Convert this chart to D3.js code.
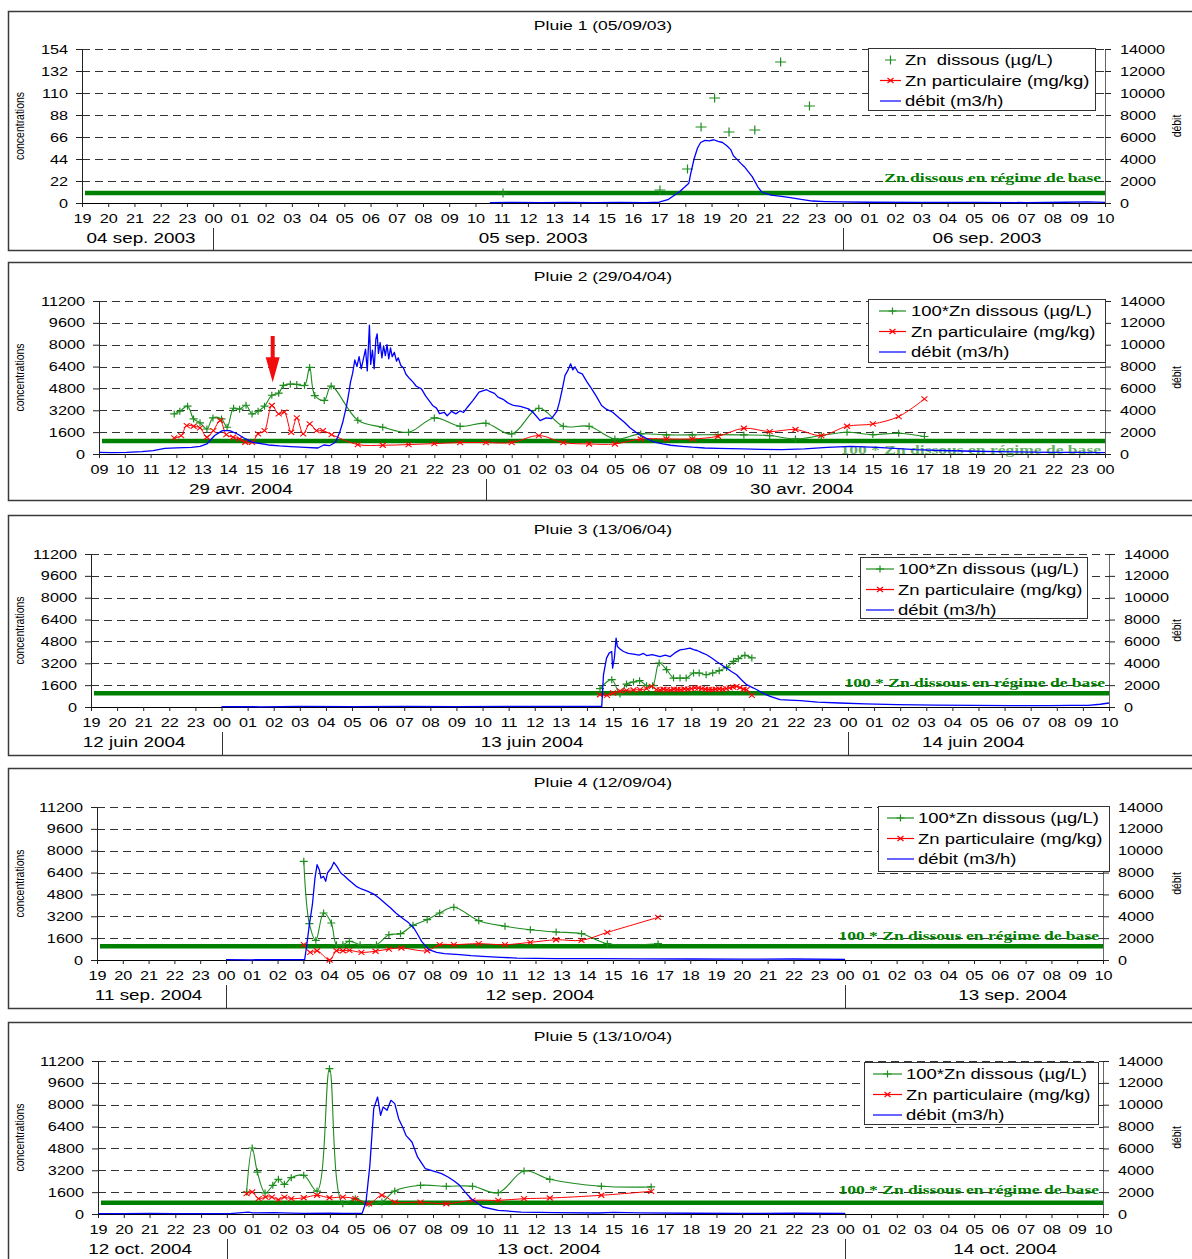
<!DOCTYPE html>
<html><head><meta charset="utf-8">
<script src="https://cdn.jsdelivr.net/npm/d3@7"></script>
<style>
html,body{margin:0;padding:0;background:#fff;}
svg{display:block;background:#fff;}
</style></head><body>
<svg id="chart" width="1192" height="1259"></svg>
<script>
// ---------- Pluie 1 (05/09/03) ----------
const pluie1Dissous = [["2003-09-05 11:03",10],["2003-09-05 17:02",13],["2003-09-05 18:05",34],["2003-09-05 18:36",76],["2003-09-05 19:07",105],["2003-09-05 19:40",71],["2003-09-05 20:39",73],["2003-09-05 21:38",141],["2003-09-05 22:44",97]];
const pluie1Particulaire = [];
const pluie1Debit = [["2003-09-05 10:33",40],["2003-09-05 11:30",60],["2003-09-05 12:30",30],["2003-09-05 13:30",50],["2003-09-05 14:30",40],["2003-09-05 15:30",60],["2003-09-05 16:30",40],["2003-09-05 17:00",70],["2003-09-05 17:20",300],["2003-09-05 17:46",1000],["2003-09-05 18:00",1500],["2003-09-05 18:08",1800],["2003-09-05 18:12",2600],["2003-09-05 18:20",4000],["2003-09-05 18:28",5000],["2003-09-05 18:35",5500],["2003-09-05 18:45",5700],["2003-09-05 18:55",5650],["2003-09-05 19:05",5750],["2003-09-05 19:15",5600],["2003-09-05 19:25",5500],["2003-09-05 19:35",5200],["2003-09-05 19:44",4850],["2003-09-05 19:50",4300],["2003-09-05 20:00",3900],["2003-09-05 20:07",3600],["2003-09-05 20:15",3300],["2003-09-05 20:24",2850],["2003-09-05 20:33",2400],["2003-09-05 20:40",1900],["2003-09-05 20:46",1450],["2003-09-05 20:55",1000],["2003-09-05 21:16",720],["2003-09-05 21:40",600],["2003-09-05 22:00",480],["2003-09-05 22:25",320],["2003-09-05 22:51",180],["2003-09-05 23:20",130],["2003-09-05 23:52",100],["2003-09-06 01:00",70],["2003-09-06 03:00",50],["2003-09-06 05:00",60],["2003-09-06 07:00",40],["2003-09-06 08:30",70],["2003-09-06 09:20",110],["2003-09-06 10:00",60]];
const pluie1Base = 10;
const pluie1Jours = [["04 sep. 2003","2003-09-04 21:15"],["05 sep. 2003","2003-09-05 12:12"],["06 sep. 2003","2003-09-06 05:30"]];

// ---------- Pluie 2 (29/04/04) ----------
const pluie2Dissous = [["2004-04-29 11:55",2930],["2004-04-29 12:08",3130],["2004-04-29 12:26",3500],["2004-04-29 12:40",2570],["2004-04-29 12:55",2280],["2004-04-29 13:11",1830],["2004-04-29 13:25",2640],["2004-04-29 13:45",2570],["2004-04-29 13:58",1960],["2004-04-29 14:13",3350],["2004-04-29 14:27",3280],["2004-04-29 14:42",3570],["2004-04-29 14:56",2930],["2004-04-29 15:10",3130],["2004-04-29 15:25",3500],["2004-04-29 15:42",4300],["2004-04-29 15:58",4450],["2004-04-29 16:09",5020],["2004-04-29 16:25",5110],["2004-04-29 16:40",5090],["2004-04-29 16:58",5020],["2004-04-29 17:10",6340],["2004-04-29 17:22",4280],["2004-04-29 17:44",3920],["2004-04-29 18:00",4970],["2004-04-29 19:02",2470],["2004-04-29 20:00",1960],["2004-04-29 21:00",1590],["2004-04-29 22:00",2640],["2004-04-29 23:00",2030],["2004-04-30 00:00",2250],["2004-04-30 01:00",1470],["2004-04-30 02:03",3350],["2004-04-30 03:00",2030],["2004-04-30 04:00",2030],["2004-04-30 05:00",1100],["2004-04-30 06:00",1470],["2004-04-30 07:00",1400],["2004-04-30 08:00",1400],["2004-04-30 09:00",1420],["2004-04-30 10:00",1400],["2004-04-30 11:00",1350],["2004-04-30 12:00",1100],["2004-04-30 13:00",1350],["2004-04-30 14:00",1590],["2004-04-30 15:00",1420],["2004-04-30 16:00",1520],["2004-04-30 17:00",1280]];
const pluie2Particulaire = [["2004-04-29 11:55",1175],["2004-04-29 12:11",1350],["2004-04-29 12:24",2080],["2004-04-29 12:40",2030],["2004-04-29 12:55",1910],["2004-04-29 13:11",1225],["2004-04-29 13:26",1715],["2004-04-29 13:42",2450],["2004-04-29 13:56",1420],["2004-04-29 14:12",1225],["2004-04-29 14:27",1100],["2004-04-29 14:40",860],["2004-04-29 14:56",860],["2004-04-29 15:10",1470],["2004-04-29 15:25",1715],["2004-04-29 15:42",3550],["2004-04-29 15:58",2935],["2004-04-29 16:11",3060],["2004-04-29 16:27",1590],["2004-04-29 16:40",2640],["2004-04-29 16:55",1470],["2004-04-29 17:10",2200],["2004-04-29 17:26",1715],["2004-04-29 17:41",1715],["2004-04-29 18:01",1420],["2004-04-29 19:02",690],["2004-04-29 20:00",640],["2004-04-29 21:00",690],["2004-04-29 22:00",760],["2004-04-29 23:00",835],["2004-04-30 00:00",835],["2004-04-30 01:00",835],["2004-04-30 02:03",1350],["2004-04-30 03:00",835],["2004-04-30 04:00",735],["2004-04-30 05:00",735],["2004-04-30 06:00",1100],["2004-04-30 07:00",1100],["2004-04-30 08:00",1100],["2004-04-30 09:00",1300],["2004-04-30 10:00",1885],["2004-04-30 11:00",1640],["2004-04-30 12:00",1790],["2004-04-30 13:00",1350],["2004-04-30 14:00",2030],["2004-04-30 15:00",2200],["2004-04-30 16:00",2740],["2004-04-30 17:00",4030]];
const pluie2Debit = [["2004-04-29 09:00",150],["2004-04-29 09:30",120],["2004-04-29 10:04",150],["2004-04-29 10:40",220],["2004-04-29 11:06",310],["2004-04-29 11:33",520],["2004-04-29 12:00",560],["2004-04-29 12:35",610],["2004-04-29 12:55",700],["2004-04-29 13:11",920],["2004-04-29 13:20",1300],["2004-04-29 13:29",1690],["2004-04-29 13:47",2140],["2004-04-29 14:04",2140],["2004-04-29 14:22",1830],["2004-04-29 14:40",1400],["2004-04-29 14:58",1070],["2004-04-29 15:34",825],["2004-04-29 16:00",740],["2004-04-29 16:26",680],["2004-04-29 17:00",600],["2004-04-29 17:29",550],["2004-04-29 17:43",825],["2004-04-29 17:56",760],["2004-04-29 18:10",1070],["2004-04-29 18:20",2000],["2004-04-29 18:27",2900],["2004-04-29 18:36",4440],["2004-04-29 18:42",5800],["2004-04-29 18:45",6570],["2004-04-29 18:50",7400],["2004-04-29 18:55",8600],["2004-04-29 19:00",8000],["2004-04-29 19:05",8900],["2004-04-29 19:10",7800],["2004-04-29 19:15",8700],["2004-04-29 19:20",9600],["2004-04-29 19:24",7600],["2004-04-29 19:29",11800],["2004-04-29 19:32",8200],["2004-04-29 19:36",9500],["2004-04-29 19:40",7800],["2004-04-29 19:44",10500],["2004-04-29 19:47",11000],["2004-04-29 19:50",9200],["2004-04-29 19:54",10200],["2004-04-29 19:58",8800],["2004-04-29 20:02",9900],["2004-04-29 20:06",9000],["2004-04-29 20:10",10000],["2004-04-29 20:14",8700],["2004-04-29 20:18",9700],["2004-04-29 20:22",8900],["2004-04-29 20:27",9300],["2004-04-29 20:32",8500],["2004-04-29 20:36",8800],["2004-04-29 20:42",8100],["2004-04-29 20:48",7900],["2004-04-29 20:54",7300],["2004-04-29 21:03",6880],["2004-04-29 21:10",6600],["2004-04-29 21:18",6200],["2004-04-29 21:30",5960],["2004-04-29 21:40",5300],["2004-04-29 21:56",4440],["2004-04-29 22:05",4200],["2004-04-29 22:12",3700],["2004-04-29 22:23",3820],["2004-04-29 22:30",3500],["2004-04-29 22:40",3900],["2004-04-29 22:50",3670],["2004-04-29 23:00",3950],["2004-04-29 23:08",3800],["2004-04-29 23:17",4280],["2004-04-29 23:30",4900],["2004-04-29 23:44",5660],["2004-04-30 00:01",5900],["2004-04-30 00:10",5700],["2004-04-30 00:20",5550],["2004-04-30 00:28",5200],["2004-04-30 00:40",5000],["2004-04-30 00:50",4700],["2004-04-30 01:04",4440],["2004-04-30 01:20",4350],["2004-04-30 01:39",4130],["2004-04-30 01:50",3800],["2004-04-30 02:06",3060],["2004-04-30 02:20",3300],["2004-04-30 02:33",3250],["2004-04-30 02:45",3900],["2004-04-30 02:51",4740],["2004-04-30 02:58",6000],["2004-04-30 03:04",7190],["2004-04-30 03:10",7600],["2004-04-30 03:17",8250],["2004-04-30 03:22",7700],["2004-04-30 03:27",7980],["2004-04-30 03:34",7500],["2004-04-30 03:44",7330],["2004-04-30 03:55",6600],["2004-04-30 04:06",5960],["2004-04-30 04:18",5200],["2004-04-30 04:29",4440],["2004-04-30 04:40",4100],["2004-04-30 04:55",3820],["2004-04-30 05:10",3300],["2004-04-30 05:22",2900],["2004-04-30 05:35",2400],["2004-04-30 05:49",1990],["2004-04-30 06:00",1700],["2004-04-30 06:16",1375],["2004-04-30 06:30",1100],["2004-04-30 06:51",920],["2004-04-30 07:10",800],["2004-04-30 07:36",700],["2004-04-30 08:00",620],["2004-04-30 08:29",550],["2004-04-30 09:00",520],["2004-04-30 09:58",460],["2004-04-30 10:40",420],["2004-04-30 11:28",400],["2004-04-30 12:21",460],["2004-04-30 13:14",610],["2004-04-30 14:08",700],["2004-04-30 15:10",610],["2004-04-30 16:00",500],["2004-04-30 16:39",400],["2004-04-30 17:40",320],["2004-04-30 18:54",250],["2004-04-30 20:30",190],["2004-04-30 21:51",150],["2004-04-30 23:00",140],["2004-05-01 00:00",130]];
const pluie2Base = 950;
const pluie2Jours = [["29 avr. 2004","2004-04-29 14:30"],["30 avr. 2004","2004-04-30 12:15"]];
// pointer onto the first particulate peak: time, top and tip concentration
const pluie2Fleche = ["2004-04-29 15:44", 8640, 5260];

// ---------- Pluie 3 (13/06/04) ----------
const pluie3Dissous = [["2004-06-13 14:30",1340],["2004-06-13 14:57",2000],["2004-06-13 15:16",950],["2004-06-13 15:31",1680],["2004-06-13 15:47",1830],["2004-06-13 16:01",1925],["2004-06-13 16:17",1560],["2004-06-13 16:31",1560],["2004-06-13 16:46",3220],["2004-06-13 17:03",2730],["2004-06-13 17:19",2120],["2004-06-13 17:34",2120],["2004-06-13 17:48",2120],["2004-06-13 18:05",2490],["2004-06-13 18:18",2490],["2004-06-13 18:34",2360],["2004-06-13 18:49",2490],["2004-06-13 19:04",2660],["2004-06-13 19:21",2900],["2004-06-13 19:37",3340],["2004-06-13 19:48",3535],["2004-06-13 20:03",3780],["2004-06-13 20:19",3590]];
const pluie3Particulaire = [["2004-06-13 14:30",900],["2004-06-13 14:46",850],["2004-06-13 15:00",1025],["2004-06-13 15:16",1170],["2004-06-13 15:31",1220],["2004-06-13 15:47",1245],["2004-06-13 16:02",1270],["2004-06-13 16:17",1340],["2004-06-13 16:29",1510],["2004-06-13 16:40",1270],["2004-06-13 16:48",1250],["2004-06-13 16:56",1300],["2004-06-13 17:04",1270],["2004-06-13 17:12",1250],["2004-06-13 17:20",1300],["2004-06-13 17:28",1280],["2004-06-13 17:36",1270],["2004-06-13 17:44",1320],["2004-06-13 17:52",1300],["2004-06-13 18:00",1350],["2004-06-13 18:08",1400],["2004-06-13 18:16",1380],["2004-06-13 18:24",1350],["2004-06-13 18:32",1300],["2004-06-13 18:40",1280],["2004-06-13 18:48",1270],["2004-06-13 18:56",1300],["2004-06-13 19:04",1320],["2004-06-13 19:12",1300],["2004-06-13 19:20",1350],["2004-06-13 19:28",1400],["2004-06-13 19:36",1450],["2004-06-13 19:44",1510],["2004-06-13 19:52",1420],["2004-06-13 20:00",1300],["2004-06-13 20:07",1270],["2004-06-13 20:19",850]];
const pluie3Debit = [["2004-06-13 00:00",40],["2004-06-13 01:30",20],["2004-06-13 03:00",50],["2004-06-13 05:00",30],["2004-06-13 07:00",50],["2004-06-13 09:00",30],["2004-06-13 11:00",60],["2004-06-13 13:00",50],["2004-06-13 14:34",60],["2004-06-13 14:38",2950],["2004-06-13 14:45",4470],["2004-06-13 14:51",4930],["2004-06-13 14:57",5080],["2004-06-13 14:59",3560],["2004-06-13 15:03",4470],["2004-06-13 15:07",6300],["2004-06-13 15:10",5530],["2004-06-13 15:16",5300],["2004-06-13 15:24",5080],["2004-06-13 15:35",4900],["2004-06-13 15:47",4840],["2004-06-13 16:00",4750],["2004-06-13 16:10",4900],["2004-06-13 16:17",4710],["2004-06-13 16:30",4800],["2004-06-13 16:48",4600],["2004-06-13 17:00",4750],["2004-06-13 17:11",4600],["2004-06-13 17:22",4950],["2004-06-13 17:34",5230],["2004-06-13 17:45",5300],["2004-06-13 17:57",5390],["2004-06-13 18:05",5250],["2004-06-13 18:13",5170],["2004-06-13 18:25",4950],["2004-06-13 18:35",4780],["2004-06-13 18:46",4500],["2004-06-13 18:58",4160],["2004-06-13 19:10",3850],["2004-06-13 19:21",3560],["2004-06-13 19:32",3250],["2004-06-13 19:44",2950],["2004-06-13 19:55",2500],["2004-06-13 20:07",2040],["2004-06-13 20:23",1735],["2004-06-13 20:38",1420],["2004-06-13 20:50",1150],["2004-06-13 21:01",970],["2004-06-13 21:24",670],["2004-06-13 21:45",620],["2004-06-13 22:11",575],["2004-06-13 22:50",450],["2004-06-13 23:40",365],["2004-06-14 00:40",280],["2004-06-14 01:52",210],["2004-06-14 03:20",170],["2004-06-14 04:47",146],["2004-06-14 06:15",130],["2004-06-14 07:44",120],["2004-06-14 08:30",140],["2004-06-14 09:12",146],["2004-06-14 09:40",250],["2004-06-14 10:00",365]];
const pluie3Base = 1000;
const pluie3Jours = [["12 juin 2004","2004-06-12 20:39"],["13 juin 2004","2004-06-13 11:54"],["14 juin 2004","2004-06-14 04:48"]];

// ---------- Pluie 4 (12/09/04) ----------
const pluie4Dissous = [["2004-09-12 03:01",7220],["2004-09-12 03:14",2660],["2004-09-12 03:29",1440],["2004-09-12 03:47",3440],["2004-09-12 04:05",2710],["2004-09-12 04:17",1120],["2004-09-12 04:32",1120],["2004-09-12 04:47",1370],["2004-09-12 05:12",1120],["2004-09-12 05:50",1120],["2004-09-12 06:19",1850],["2004-09-12 06:46",1925],["2004-09-12 07:15",2540],["2004-09-12 07:48",2950],["2004-09-12 08:17",3440],["2004-09-12 08:50",3860],["2004-09-12 09:48",2880],["2004-09-12 10:49",2470],["2004-09-12 11:48",2220],["2004-09-12 12:48",2050],["2004-09-12 13:47",1925],["2004-09-12 14:47",1195],["2004-09-12 16:45",1195]];
const pluie4Particulaire = [["2004-09-12 03:01",1120],["2004-09-12 03:16",560],["2004-09-12 03:32",680],["2004-09-12 04:01",0],["2004-09-12 04:17",680],["2004-09-12 04:32",680],["2004-09-12 04:47",710],["2004-09-12 05:15",560],["2004-09-12 05:48",640],["2004-09-12 06:19",800],["2004-09-12 06:48",880],["2004-09-12 07:48",680],["2004-09-12 08:17",1120],["2004-09-12 08:50",1120],["2004-09-12 09:48",1195],["2004-09-12 10:49",1120],["2004-09-12 11:48",1290],["2004-09-12 12:48",1480],["2004-09-12 13:47",1440],["2004-09-12 14:47",2020],["2004-09-12 16:45",3120]];
const pluie4Debit = [["2004-09-12 00:00",40],["2004-09-12 01:00",20],["2004-09-12 02:00",40],["2004-09-12 02:40",30],["2004-09-12 03:03",40],["2004-09-12 03:07",1100],["2004-09-12 03:14",3230],["2004-09-12 03:21",5060],["2004-09-12 03:27",7500],["2004-09-12 03:32",8720],["2004-09-12 03:37",8260],["2004-09-12 03:41",7500],["2004-09-12 03:47",7650],["2004-09-12 03:52",7200],["2004-09-12 03:56",7960],["2004-09-12 04:05",8420],["2004-09-12 04:11",8940],["2004-09-12 04:18",8570],["2004-09-12 04:27",7960],["2004-09-12 04:35",7700],["2004-09-12 04:45",7350],["2004-09-12 05:03",6740],["2004-09-12 05:15",6500],["2004-09-12 05:30",6280],["2004-09-12 05:45",6000],["2004-09-12 05:56",5670],["2004-09-12 06:10",5200],["2004-09-12 06:23",4760],["2004-09-12 06:35",4300],["2004-09-12 06:50",3840],["2004-09-12 07:05",3400],["2004-09-12 07:17",2930],["2004-09-12 07:25",2400],["2004-09-12 07:35",1710],["2004-09-12 07:52",950],["2004-09-12 08:10",700],["2004-09-12 08:28",580],["2004-09-12 09:04",490],["2004-09-12 09:30",400],["2004-09-12 09:57",340],["2004-09-12 10:40",240],["2004-09-12 11:17",180],["2004-09-12 12:47",120],["2004-09-12 14:24",120],["2004-09-12 16:00",100],["2004-09-12 18:00",90],["2004-09-12 20:00",80],["2004-09-12 22:00",90],["2004-09-13 00:00",60]];
const pluie4Base = 1000;
const pluie4Jours = [["11 sep. 2004","2004-09-11 21:00"],["12 sep. 2004","2004-09-12 12:10"],["13 sep. 2004","2004-09-13 06:30"]];

// ---------- Pluie 5 (13/10/04) ----------
const pluie5Dissous = [["2004-10-13 00:46",1610],["2004-10-13 00:59",4830],["2004-10-13 01:11",3070],["2004-10-13 01:29",1540],["2004-10-13 01:47",2100],["2004-10-13 02:00",2540],["2004-10-13 02:14",2170],["2004-10-13 02:30",2660],["2004-10-13 02:59",2830],["2004-10-13 03:30",1680],["2004-10-13 03:59",10640],["2004-10-13 04:30",750],["2004-10-13 04:59",1120],["2004-10-13 05:31",750],["2004-10-13 06:01",870],["2004-10-13 06:31",1680],["2004-10-13 07:31",2100],["2004-10-13 08:31",2030],["2004-10-13 09:32",2030],["2004-10-13 10:32",1560],["2004-10-13 11:32",3150],["2004-10-13 12:32",2540],["2004-10-13 14:32",2030],["2004-10-13 16:28",1980]];
const pluie5Particulaire = [["2004-10-13 00:46",1490],["2004-10-13 00:59",1610],["2004-10-13 01:14",1120],["2004-10-13 01:30",1240],["2004-10-13 01:45",1240],["2004-10-13 02:00",1050],["2004-10-13 02:14",1240],["2004-10-13 02:30",1120],["2004-10-13 02:59",1190],["2004-10-13 03:30",1370],["2004-10-13 03:59",1190],["2004-10-13 04:30",1240],["2004-10-13 04:59",1120],["2004-10-13 05:31",750],["2004-10-13 06:01",1370],["2004-10-13 06:31",870],["2004-10-13 07:31",870],["2004-10-13 08:31",750],["2004-10-13 09:32",1000],["2004-10-13 10:32",1000],["2004-10-13 11:32",1120],["2004-10-13 12:32",1170],["2004-10-13 14:32",1370],["2004-10-13 16:28",1660]];
const pluie5Debit = [["2004-10-12 19:00",40],["2004-10-12 20:00",30],["2004-10-12 21:00",50],["2004-10-12 22:00",30],["2004-10-12 23:00",40],["2004-10-13 00:07",40],["2004-10-13 00:50",180],["2004-10-13 01:00",100],["2004-10-13 01:50",120],["2004-10-13 02:30",80],["2004-10-13 03:00",60],["2004-10-13 04:00",70],["2004-10-13 04:30",60],["2004-10-13 05:15",60],["2004-10-13 05:24",1100],["2004-10-13 05:33",4450],["2004-10-13 05:42",9640],["2004-10-13 05:51",10700],["2004-10-13 05:58",9030],["2004-10-13 06:04",9800],["2004-10-13 06:13",9490],["2004-10-13 06:22",10400],["2004-10-13 06:31",10100],["2004-10-13 06:40",8720],["2004-10-13 06:50",7900],["2004-10-13 06:57",7200],["2004-10-13 07:11",6590],["2004-10-13 07:24",5220],["2004-10-13 07:42",4150],["2004-10-13 08:09",3840],["2004-10-13 08:20",3700],["2004-10-13 08:35",3390],["2004-10-13 08:50",3000],["2004-10-13 09:02",2620],["2004-10-13 09:15",2000],["2004-10-13 09:29",1400],["2004-10-13 09:56",640],["2004-10-13 10:32",340],["2004-10-13 11:25",180],["2004-10-13 12:45",120],["2004-10-13 14:24",90],["2004-10-13 15:00",140],["2004-10-13 16:00",110],["2004-10-13 18:00",70],["2004-10-13 20:00",60],["2004-10-13 22:00",70],["2004-10-14 00:00",60]];
const pluie5Base = 820;
const pluie5Jours = [["12 oct. 2004","2004-10-12 20:38"],["13 oct. 2004","2004-10-13 12:30"],["14 oct. 2004","2004-10-14 06:12"]];

// ---------- axis ticks ----------
const concTicksPluie1 = [0,22,44,66,88,110,132,154];
const concTicks = [0,1600,3200,4800,6400,8000,9600,11200];
const debitTicks = [0,2000,4000,6000,8000,10000,12000,14000];

// ---------- panel options ----------
const panels = [
  {title:"Pluie 1 (05/09/03)", start:"2003-09-04 19:00", end:"2003-09-06 10:00", conc:concTicksPluie1,
   dissous:pluie1Dissous, particulaire:pluie1Particulaire, debit:pluie1Debit, base:pluie1Base, jours:pluie1Jours,
   baseText:"Zn dissous en régime de base", legDissous:"Zn  dissous (µg/L)", dissousLine:false,
   L:{top:11,bottom:250,left:82,right:1105,pTop:49,pBot:203,baseDy:-16,
      leg:{x:868,y:48,w:227,h:62,lx:880,lw:21,tx:905}, plus:[5.5,4.5]}},
  {title:"Pluie 2 (29/04/04)", start:"2004-04-29 09:00", end:"2004-05-01 00:00", conc:concTicks,
   dissous:pluie2Dissous, particulaire:pluie2Particulaire, debit:pluie2Debit, base:pluie2Base, jours:pluie2Jours,
   baseText:"100 * Zn dissous en régime de base", legDissous:"100*Zn dissous (µg/L)", dissousLine:true, fleche:pluie2Fleche,
   L:{top:262,bottom:500,left:99,right:1105,pTop:301,pBot:454,baseDy:8,baseOpacity:0.6,
      leg:{x:868,y:299,w:237,h:63,lx:879,lw:27,tx:911}, plus:[4,3.5]}},
  {title:"Pluie 3 (13/06/04)", start:"2004-06-12 19:00", end:"2004-06-14 10:00", conc:concTicks,
   dissous:pluie3Dissous, particulaire:pluie3Particulaire, debit:pluie3Debit, base:pluie3Base, jours:pluie3Jours,
   baseText:"100 * Zn dissous en régime de base", legDissous:"100*Zn dissous (µg/L)", dissousLine:true,
   L:{top:515,bottom:755,left:91,right:1109,pTop:554,pBot:707,baseDy:-11.5,
      leg:{x:860,y:557,w:227,h:61,lx:866,lw:28,tx:898}, plus:[4,3.5]}},
  {title:"Pluie 4 (12/09/04)", start:"2004-09-11 19:00", end:"2004-09-13 10:00", conc:concTicks,
   dissous:pluie4Dissous, particulaire:pluie4Particulaire, debit:pluie4Debit, base:pluie4Base, jours:pluie4Jours,
   baseText:"100 * Zn dissous en régime de base", legDissous:"100*Zn dissous (µg/L)", dissousLine:true,
   L:{top:768,bottom:1008,left:97,right:1103,pTop:807,pBot:960,baseDy:-11.5,
      leg:{x:878,y:806,w:231,h:65,lx:887,lw:27,tx:918}, plus:[4,3.5]}},
  {title:"Pluie 5 (13/10/04)", start:"2004-10-12 19:00", end:"2004-10-14 10:00", conc:concTicks,
   dissous:pluie5Dissous, particulaire:pluie5Particulaire, debit:pluie5Debit, base:pluie5Base, jours:pluie5Jours,
   baseText:"100 * Zn dissous en régime de base", legDissous:"100*Zn dissous (µg/L)", dissousLine:true,
   L:{top:1022,bottom:1275,left:98,right:1103,pTop:1061,pBot:1214,baseDy:-14,
      leg:{x:864,y:1062,w:234,h:62,lx:873,lw:29,tx:906}, plus:[4,3.5]}}
];

// ---------- drawing ----------
const FONT = '"Liberation Sans", Arial, sans-serif';
const SERIF = '"Liberation Serif", "Times New Roman", serif';
const SX = 1.3;               // glyphs are drawn horizontally widened
const GREEN = "#1e8c1e", BASEGREEN = "#008000", RED = "#ff0000", BLUE = "#0000ff";
const parse = d3.utcParse("%Y-%m-%d %H:%M");
const svg = d3.select("#chart");

function text(g, x, y, str, o = {}) {
  return g.append("g").attr("transform", `translate(${x},${y}) scale(${o.sx ?? SX},1)`)
    .append("text")
    .attr("text-anchor", o.anchor || "middle")
    .attr("dominant-baseline", "central")
    .attr("font-family", o.family || FONT)
    .attr("font-size", o.size || 13)
    .attr("font-weight", o.weight || "normal")
    .attr("fill", o.fill || "#000")
    .style("white-space", "pre")
    .text(str);
}
function widenAxisText(axisG) {
  axisG.selectAll("text").each(function () {
    const t = d3.select(this);
    const x0 = +t.attr("x") || 0;
    t.attr("x", x0 / SX).attr("transform", `scale(${SX},1)`);
  });
}
const plusPath = (w, h) => `M${-w},0H${w}M0,${-h}V${h}`;
const crossPath = (w, h) => `M${-w},${-h}L${w},${h}M${-w},${h}L${w},${-h}`;

panels.forEach(p => {
  const L = p.L;
  const g = svg.append("g");
  const t0 = parse(p.start), t1 = parse(p.end);
  const x = d3.scaleUtc().domain([t0, t1]).range([L.left, L.right]);
  const y = d3.scaleLinear().domain([0, p.conc[p.conc.length - 1]]).range([L.pBot, L.pTop]);
  const y2 = d3.scaleLinear().domain([0, debitTicks[debitTicks.length - 1]]).range([L.pBot, L.pTop]);

  // frame
  g.append("rect").attr("x", 8.5).attr("y", L.top + 0.5).attr("width", 1200).attr("height", L.bottom - L.top)
    .attr("fill", "#fff").attr("stroke", "#3a3a3a").attr("stroke-width", 1.5);

  // title
  text(g, 603, L.top + 14, p.title, {size: 13.5});

  // dashed gridlines
  g.append("g").selectAll("line").data(p.conc.slice(1)).join("line")
    .attr("x1", L.left).attr("x2", L.right)
    .attr("y1", d => Math.round(y(d)) + 0.5).attr("y2", d => Math.round(y(d)) + 0.5)
    .attr("stroke", "#333").attr("stroke-width", 1).attr("stroke-dasharray", "8,5");

  // axes
  const axisStyle = a => a.attr("font-family", FONT).attr("font-size", 12.5).attr("color", "#222");
  const gl = g.append("g").attr("transform", `translate(${L.left},0)`)
    .call(d3.axisLeft(y).tickValues(p.conc).tickFormat(d3.format("d")).tickSize(6).tickSizeOuter(0).tickPadding(8))
    .call(axisStyle);
  gl.selectAll("text").attr("fill", "#000");
  widenAxisText(gl);

  const gr = g.append("g").attr("transform", `translate(${L.right},0)`)
    .call(d3.axisRight(y2).tickValues(debitTicks).tickFormat(d3.format("d")).tickSize(6).tickSizeOuter(0).tickPadding(9))
    .call(axisStyle);
  gr.select(".domain").attr("color", "#666");
  gr.selectAll("text").attr("fill", "#000");
  widenAxisText(gr);

  const gb = g.append("g").attr("transform", `translate(0,${L.pBot})`)
    .call(d3.axisBottom(x).ticks(d3.utcHour.every(1)).tickFormat(d3.utcFormat("%H")).tickSize(4).tickSizeOuter(0).tickPadding(7))
    .call(axisStyle);
  gb.select(".domain").attr("color", "#000");
  gb.selectAll("text").attr("fill", "#000");
  widenAxisText(gb);

  // axis titles
  const mid = (L.pTop + L.pBot) / 2;
  g.append("text").attr("transform", `translate(24,${mid}) rotate(-90) scale(1,${SX})`)
    .attr("text-anchor", "middle").attr("font-family", FONT).attr("font-size", 10.5).text("concentrations");
  g.append("text").attr("transform", `translate(1181,${mid}) rotate(-90) scale(1,${SX})`)
    .attr("text-anchor", "middle").attr("font-family", FONT).attr("font-size", 10.5).text("débit");

  // day separators and day labels
  g.append("g").selectAll("line").data(d3.utcDay.range(new Date(+t0 + 1), t1)).join("line")
    .attr("x1", d => Math.round(x(d)) + 0.5).attr("x2", d => Math.round(x(d)) + 0.5)
    .attr("y1", L.pBot + 25).attr("y2", L.bottom)
    .attr("stroke", "#333").attr("stroke-width", 1);
  p.jours.forEach(([lab, t]) => text(g, x(parse(t)), L.top + 227, lab, {size: 14.5}));

  // base level of dissolved zinc
  g.append("line").attr("x1", L.left + 3).attr("x2", L.right)
    .attr("y1", y(p.base)).attr("y2", y(p.base))
    .attr("stroke", BASEGREEN).attr("stroke-width", 4.5);
  text(g, L.right - 4, y(p.base) + L.baseDy, p.baseText,
       {size: 13.5, anchor: "end", family: SERIF, weight: "bold", fill: BASEGREEN})
    .attr("opacity", L.baseOpacity || 1);

  const pts = arr => arr.map(([t, v]) => [parse(t), v]);
  const smooth = d3.line().x(d => x(d[0])).y(d => y(d[1])).curve(d3.curveCatmullRom.alpha(0.5));

  // dissolved zinc
  const dis = pts(p.dissous);
  if (p.dissousLine) {
    g.append("path").datum(dis).attr("d", smooth).attr("fill", "none").attr("stroke", GREEN).attr("stroke-width", 1.1);
  }
  g.append("g").selectAll("path").data(dis).join("path")
    .attr("transform", d => `translate(${x(d[0])},${y(d[1])})`)
    .attr("d", plusPath(...L.plus)).attr("stroke", GREEN).attr("stroke-width", 1.2).attr("fill", "none");

  // particulate zinc
  const par = pts(p.particulaire);
  if (par.length) {
    g.append("path").datum(par).attr("d", smooth).attr("fill", "none").attr("stroke", RED).attr("stroke-width", 1);
    g.append("g").selectAll("path").data(par).join("path")
      .attr("transform", d => `translate(${x(d[0])},${y(d[1])})`)
      .attr("d", crossPath(3, 2.5)).attr("stroke", RED).attr("stroke-width", 1.1).attr("fill", "none");
  }

  // flow on the secondary axis
  g.append("path").datum(pts(p.debit))
    .attr("d", d3.line().x(d => x(d[0])).y(d => y2(d[1])))
    .attr("fill", "none").attr("stroke", BLUE).attr("stroke-width", 1.3).attr("stroke-linejoin", "round");

  // arrow pointing at a peak
  if (p.fleche) {
    const [ft, top, tip] = p.fleche;
    const ax = x(parse(ft)), ay0 = y(top), ay1 = y(tip);
    g.append("path")
      .attr("d", `M${ax - 2},${ay0}H${ax + 2}V${ay1 - 25}H${ax + 7}L${ax},${ay1}L${ax - 7},${ay1 - 25}H${ax - 2}Z`)
      .attr("fill", "#f20d0d");
  }

  // legend
  const lg = L.leg;
  const leg = g.append("g");
  leg.append("rect").attr("x", lg.x + 0.5).attr("y", lg.y + 0.5).attr("width", lg.w).attr("height", lg.h)
    .attr("fill", "#fff").attr("stroke", "#333").attr("stroke-width", 1);
  const rows = [
    {label: p.legDissous, color: GREEN, marker: plusPath(...L.plus), line: p.dissousLine},
    {label: "Zn particulaire (mg/kg)", color: RED, marker: crossPath(3, 2.5), line: true},
    {label: "débit (m3/h)", color: BLUE, marker: null, line: true}
  ];
  rows.forEach((r, i) => {
    const ry = lg.y + 12 + i * 20.5;
    if (r.line) leg.append("line").attr("x1", lg.lx).attr("x2", lg.lx + lg.lw).attr("y1", ry).attr("y2", ry)
      .attr("stroke", r.color).attr("stroke-width", 1.2);
    if (r.marker) leg.append("path").attr("transform", `translate(${lg.lx + lg.lw / 2},${ry})`)
      .attr("d", r.marker).attr("stroke", r.color).attr("stroke-width", 1.2).attr("fill", "none");
    text(leg, lg.tx, ry, r.label, {size: 14.2, anchor: "start"});
  });
});
</script>
</body></html>
